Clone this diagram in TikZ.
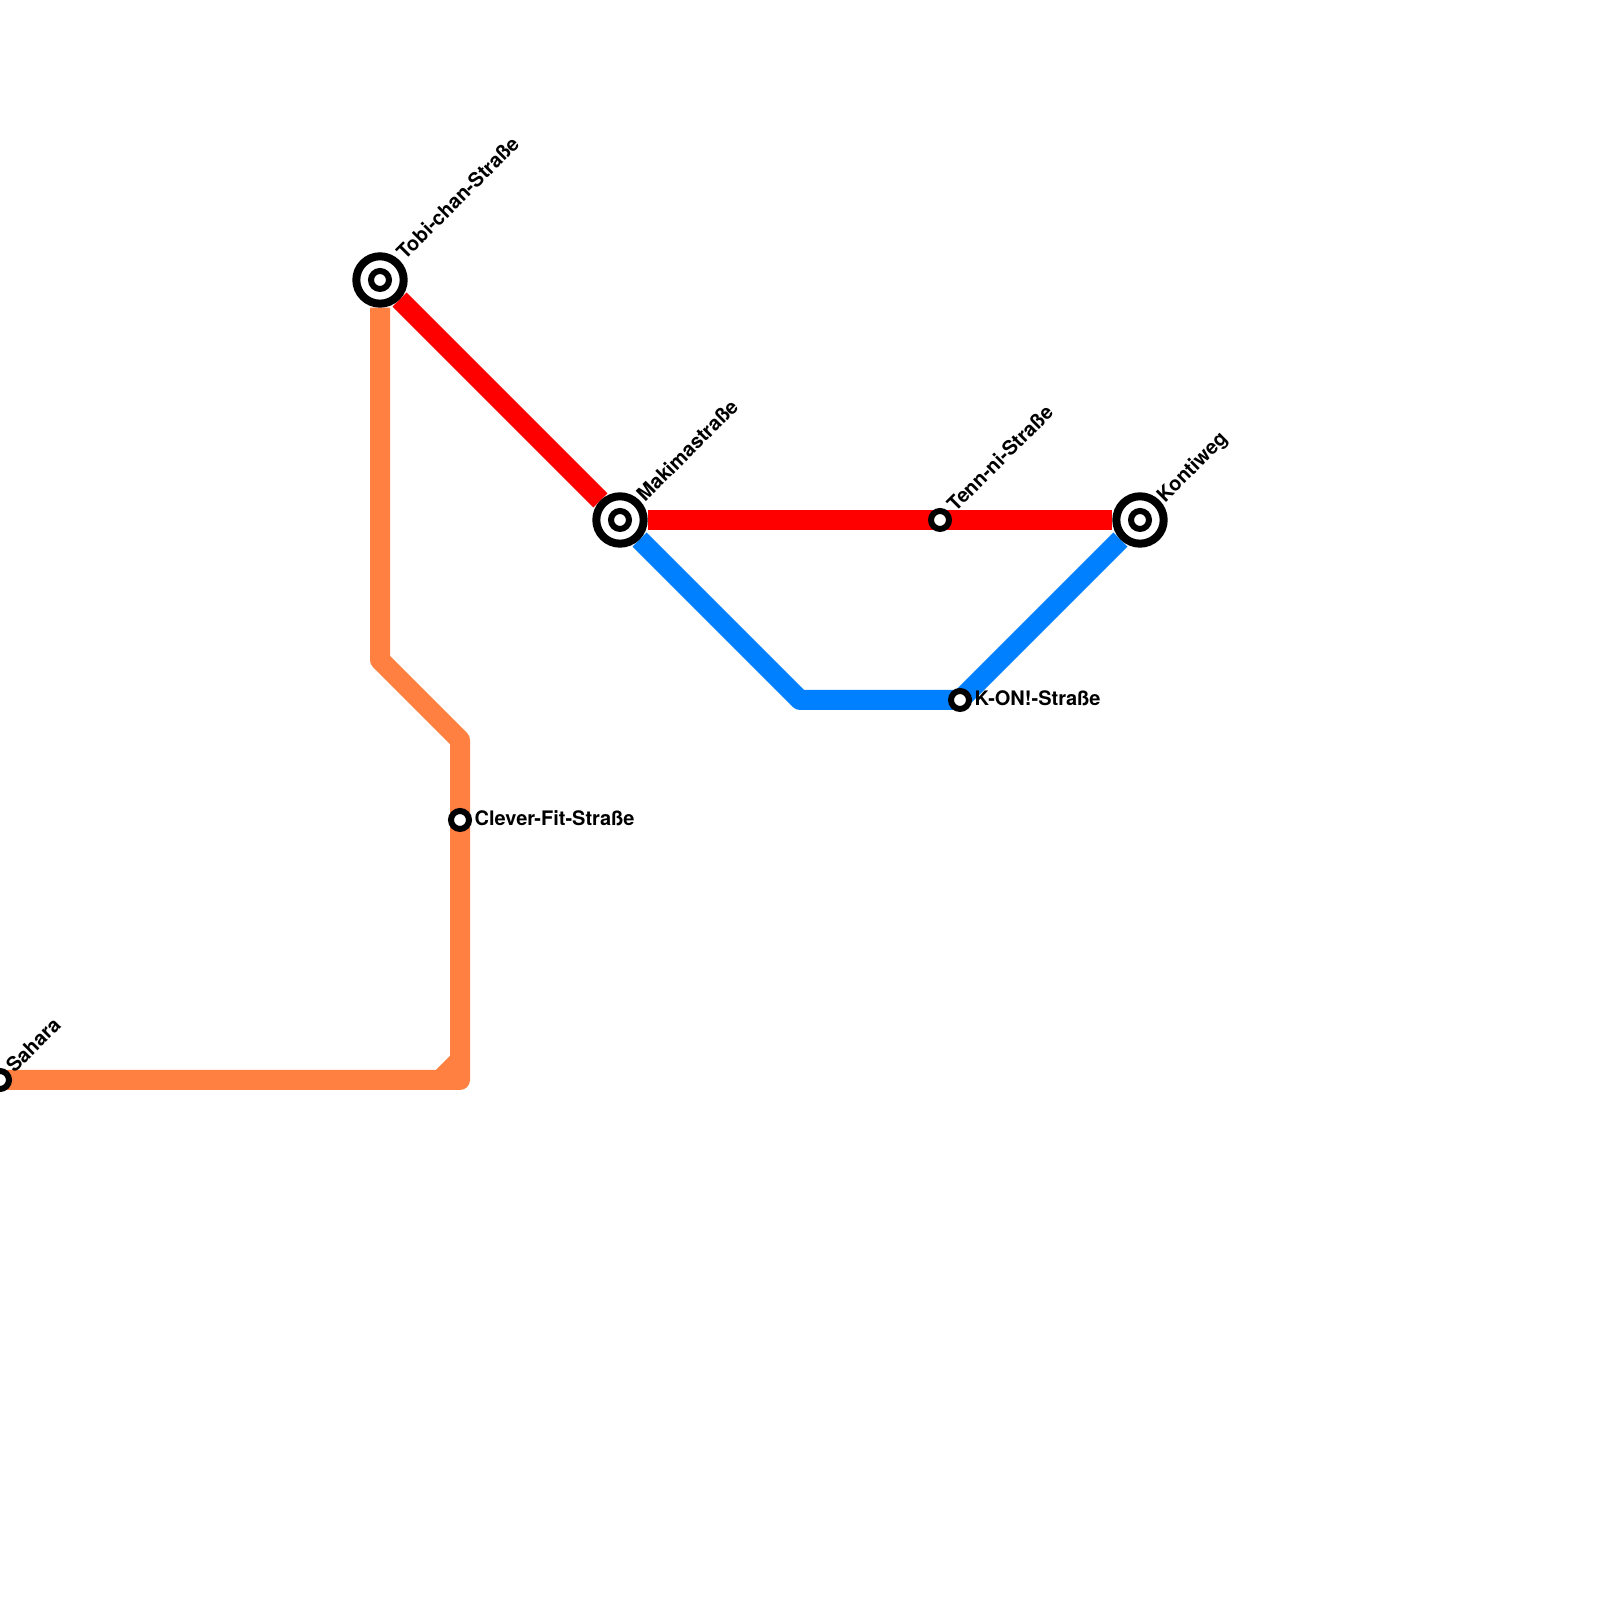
\documentclass[tikz,border=0pt]{standalone}
\usepackage{fontspec}
\setmainfont{TeX Gyre Heros}
\usetikzlibrary{backgrounds}
\definecolor{lineorange}{HTML}{FF8040}
\definecolor{lineblue}{HTML}{0080FF}
\definecolor{linered}{HTML}{FF0000}
\tikzset{
  metro/.style={line width=5.69pt,line join=round},
  halt/.style={circle,draw=black,fill=white,line width=1.71pt,minimum size=0.18cm,inner sep=0pt,outer sep=0pt},
  hub/.style={circle,draw=black,fill=white,line width=2.28pt,minimum size=0.474cm,inner sep=0pt,outer sep=1.14pt},
  hublabel/.style={font=\fontsize{5.69pt}{6.8pt}\selectfont\bfseries,inner sep=0pt,anchor=west},
  diaglabel/.style={hublabel,rotate=45}
}
\begin{document}
\begin{tikzpicture}
  \useasboundingbox (0,0) rectangle (16,16);
  % hubs
  \node[hub] (tobi) at (3.8,13.2){};
  \node[hub] (maki) at (6.2,10.8){};
  \node[hub] (konti) at (11.4,10.8){};
  \node[halt] (tobidot) at (tobi.center){};
  \node[halt] (makidot) at (maki.center){};
  \node[halt] (kontidot) at (konti.center){};
  % halts
  \node[halt] (tenn) at (9.4,10.8){};
  \node[halt] (kon) at (9.6,9){};
  \node[halt] (clever) at (4.6,7.8){};
  \node[halt] (sahara) at (0,5.2){};
  % bends
  \coordinate (bendA) at (3.8,9.4);
  \coordinate (bendB) at (4.6,8.6);
  \coordinate (bendC) at (4.6,5.2);
  \coordinate (bendD) at (4.6,5.4);
  \coordinate (bendE) at (4.4,5.2);
  \coordinate (bendF) at (8,9);
  % lines
  \begin{pgfonlayer}{background}
    \draw[metro,lineorange] (tobi)--(bendA)--(bendB)--(clever.center)--(bendC)--(sahara.center);
    \draw[metro,lineorange] (bendD)--(bendE);
    \draw[metro,lineblue] (maki)--(bendF)--(kon.center)--(konti);
    \draw[metro,linered] (tobi)--(maki);
    \draw[metro,linered] (maki)--(tenn.center)--(konti);
  \end{pgfonlayer}
  % labels
  \node[diaglabel] (tobilabel) at (3.995,13.44){Tobi-chan-Straße};
  \node[diaglabel] (makilabel) at (6.395,11.02){Makimastraße};
  \node[diaglabel] (kontilabel) at (11.61,11){Kontiweg};
  \node[diaglabel] (tennlabel) at (9.5,10.92){Tenn-ni-Straße};
  \node[diaglabel] (saharalabel) at (0.09,5.31){Sahara};
  \node[hublabel] (konlabel) at (9.74,9.02){K-ON!-Straße};
  \node[hublabel] (cleverlabel) at (4.74,7.82){Clever-Fit-Straße};
\end{tikzpicture}
\end{document}
